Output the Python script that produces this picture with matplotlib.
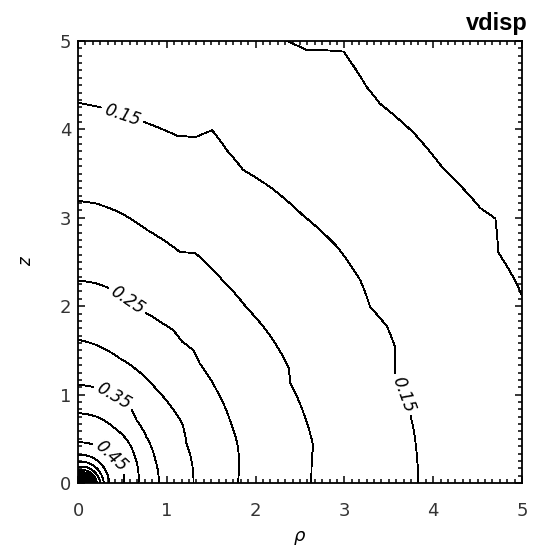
import numpy as np
import matplotlib
matplotlib.use('Agg')
import matplotlib.pyplot as plt
from matplotlib.ticker import MultipleLocator, AutoMinorLocator

# (rho, z) points along each contour, z-axis end first
c010 = [(0.0, 5.8), (1.5, 5.45), (2.35, 5.0), (2.57, 4.90), (2.99, 4.88), (3.25, 4.48),
        (3.40, 4.29), (3.77, 3.97), (4.11, 3.56), (4.53, 3.11), (4.70, 2.99),
        (4.73, 2.61), (4.90, 2.33), (5.0, 2.12), (5.3, 1.5), (5.6, 0.0)]
c015 = [(0.0, 4.30), (0.25, 4.25), (0.50, 4.16), (0.75, 4.08), (1.11, 3.93), (1.32, 3.91),
        (1.51, 3.99), (1.68, 3.76), (1.86, 3.54), (2.16, 3.35), (2.53, 3.03),
        (2.92, 2.67), (3.18, 2.29), (3.29, 1.99), (3.48, 1.77), (3.57, 1.54),
        (3.57, 1.24), (3.66, 1.00), (3.72, 0.85), (3.78, 0.60), (3.81, 0.37), (3.83, 0.0)]
c020 = [(0.0, 3.19), (0.21, 3.16), (0.47, 3.06), (0.78, 2.86), (1.15, 2.61), (1.32, 2.60),
        (1.49, 2.44), (1.63, 2.29), (1.90, 1.98), (2.16, 1.67), (2.37, 1.31),
        (2.39, 1.13), (2.54, 0.79), (2.65, 0.41), (2.63, 0.30), (2.62, 0.0)]
c025 = [(0.0, 2.29), (0.20, 2.26), (0.36, 2.20), (0.55, 2.07), (0.77, 1.92), (0.96, 1.80),
        (1.07, 1.73), (1.17, 1.60), (1.30, 1.50), (1.37, 1.35), (1.56, 1.05),
        (1.71, 0.71), (1.80, 0.41), (1.80, 0.0)]
c030 = [(0.0, 1.62), (0.21, 1.56), (0.47, 1.41), (0.66, 1.28), (0.89, 1.05), (1.05, 0.86),
        (1.17, 0.68), (1.22, 0.45), (1.29, 0.18), (1.30, 0.0)]
c035 = [(0.0, 1.11), (0.20, 1.08), (0.40, 0.98), (0.59, 0.85), (0.66, 0.71), (0.77, 0.52),
        (0.87, 0.26), (0.91, 0.0)]
c040 = [(0.0, 0.79), (0.21, 0.75), (0.40, 0.63), (0.55, 0.49), (0.64, 0.30), (0.68, 0.0)]
c045 = [(0.0, 0.46), (0.20, 0.42), (0.35, 0.32), (0.46, 0.20), (0.51, 0.12), (0.52, 0.0)]

# inner rings near the origin: crossings on the z axis and on the rho axis
inner_lev = [0.50, 0.55, 0.60, 0.65, 0.70, 0.75, 0.80, 0.85, 0.90, 0.95, 1.00, 1.05,
             1.10, 1.15, 1.20, 1.25, 1.30, 1.35, 1.40, 1.45, 1.50, 1.55, 1.60, 1.65,
             1.70, 1.75, 1.80, 1.85, 1.90, 1.95, 2.00]
inner_z = [0.32, 0.24, 0.18, 0.14, 0.115, 0.10, 0.09, 0.082, 0.075, 0.069, 0.063, 0.058,
           0.053, 0.048, 0.044, 0.040, 0.036, 0.032, 0.029, 0.026, 0.023, 0.020, 0.017,
           0.015, 0.013, 0.011, 0.009, 0.007, 0.005, 0.004, 0.003]
inner_rho = [0.35, 0.29, 0.25, 0.215, 0.19, 0.17, 0.155, 0.143, 0.132, 0.122, 0.112, 0.103,
             0.095, 0.087, 0.080, 0.073, 0.066, 0.060, 0.054, 0.048, 0.043, 0.038, 0.033,
             0.028, 0.024, 0.020, 0.016, 0.013, 0.010, 0.007, 0.005]
peak = 2.05
outer = [(0.0, 8.0), (8.0, 0.0)]   # 0.05, off the plot

# where the 0.15, 0.15, 0.25, 0.35, 0.45 labels sit
label_pos = [(0.50, 4.16), (3.66, 1.00), (0.55, 2.07), (0.40, 0.98), (0.37, 0.30)]

# build vdisp(rho, z) on a grid by interpolating between the contour radii
rho = np.unique(np.concatenate([np.linspace(0, 0.4, 401), np.linspace(0.4, 5, 461)]))
z = rho.copy()
RHO, Z = np.meshgrid(rho, z)
TH = np.arctan2(Z, RHO)
RR = np.hypot(RHO, Z)

rings = [(l, [(0.0, zz), (rr, 0.0)]) for l, zz, rr in zip(inner_lev, inner_z, inner_rho)]
rings = rings[::-1] + [(0.45, c045), (0.40, c040), (0.35, c035), (0.30, c030),
                       (0.25, c025), (0.20, c020), (0.15, c015), (0.10, c010), (0.05, outer)]

vdisp = np.full(RR.shape, 0.05)
prev_r = np.zeros(RR.shape)
prev_l = peak
for lev, pts in rings:
    p = np.array(pts)
    th = np.arctan2(p[:, 1], p[:, 0])
    r = np.hypot(p[:, 0], p[:, 1])
    o = np.argsort(th)
    rj = np.interp(TH, th[o], r[o])
    m = (RR >= prev_r) & (RR < rj)
    vdisp[m] = prev_l + (RR[m] - prev_r[m]) / (rj[m] - prev_r[m]) * (lev - prev_l)
    prev_r, prev_l = rj, lev

levels = np.round(np.arange(0.10, 2.001, 0.05), 2)

fig = plt.figure(figsize=(5.37, 5.51), dpi=100)
ax = fig.add_axes([0.1453, 0.1234, 0.8268, 0.8022])
cs = ax.contour(RHO, Z, vdisp, levels=levels, colors='black', linewidths=0.6,
                antialiased=False)
txt = ax.clabel(cs, manual=label_pos, fmt='%.2f', fontsize=12, inline=True,
                inline_spacing=4)
for t in txt:
    t.set_fontstyle('italic')

ax.set_xlim(0, 5)
ax.set_ylim(0, 5)
ax.xaxis.set_major_locator(MultipleLocator(1))
ax.yaxis.set_major_locator(MultipleLocator(1))
ax.xaxis.set_minor_locator(AutoMinorLocator(12))
ax.yaxis.set_minor_locator(AutoMinorLocator(12))
ax.tick_params(which='both', direction='in', top=True, right=True, width=1.1, color='black')
ax.tick_params(which='major', length=5)
ax.tick_params(which='minor', length=3)
ax.tick_params(axis='x', pad=13.5, labelsize=13, labelcolor='#333333')
ax.tick_params(axis='y', pad=5, labelsize=13, labelcolor='#333333')
for s in ax.spines.values():
    s.set_linewidth(1.3)

ax.set_xlabel(r'$\rho$', fontsize=13)
ax.set_ylabel('z', fontsize=12, fontstyle='italic')
ax.xaxis.set_label_coords(0.5, -0.105)
ax.yaxis.set_label_coords(-0.097, 0.5)

fig.text(528 / 537, 1 - 30 / 551, 'vdisp', ha='right', va='baseline', fontsize=17,
         fontweight='bold', family='Liberation Sans')

fig.savefig('out.png', dpi=100)
